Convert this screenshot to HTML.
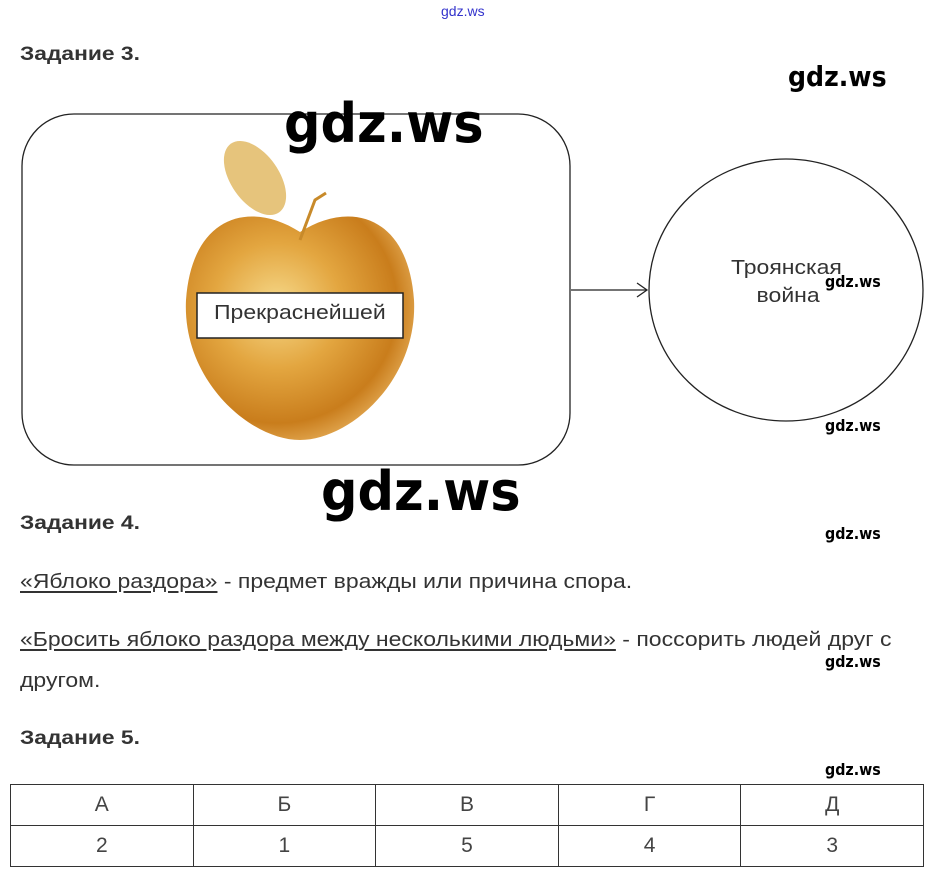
<!DOCTYPE html>
<html><head><meta charset="utf-8"><style>
body{margin:0;width:935px;height:870px;background:#fff;position:relative;overflow:hidden;font-family:"Liberation Sans",Arial,sans-serif;color:#333}
.a{position:absolute;white-space:nowrap;transform-origin:0 0;transform:scaleX(1.15)}
.h{font-weight:bold;font-size:19px;color:#333;transform:scaleX(1.2)}
.w{font-family:"DejaVu Sans Condensed","Liberation Sans",sans-serif;color:#000;font-weight:bold;transform:scaleX(1.0)}
.t{font-size:20px;color:#333}
u{text-decoration-thickness:2px;text-underline-offset:3px}
table{position:absolute;left:10px;top:784px;width:914px;border-collapse:collapse}
td{border:1.5px solid #333;height:38px;text-align:center;font-size:21px;color:#444;width:20%}
</style></head><body>
<div class="a" style="left:441px;top:3px;font-size:14px;color:#33c;transform:none">gdz.ws</div>
<div class="a h" style="left:20px;top:44px">Задание 3.</div>
<div class="a w" style="left:788px;top:60px;font-size:28px">gdz.ws</div>
<svg style="position:absolute;left:0;top:0" width="935" height="480">
<defs>
<radialGradient id="g" cx="0.4" cy="0.4" r="0.7">
<stop offset="0" stop-color="#f6d98a"/><stop offset="0.4" stop-color="#e3a640"/><stop offset="0.75" stop-color="#c97d1c"/><stop offset="1" stop-color="#f0c070"/></radialGradient>
</defs>
<rect x="22" y="114" width="548" height="351" rx="52" fill="none" stroke="#222" stroke-width="1.3"/>
<path d="M300 232 C250 200 192 215 186 300 C182 380 250 440 300 440 C350 440 418 380 414 300 C408 215 350 200 300 232Z" fill="url(#g)"/>
<ellipse cx="255" cy="178" rx="42" ry="24" transform="rotate(55 255 178)" fill="#e6c47c"/>
<path d="M300 240 L315 200 L326 193" stroke="#c88a2a" stroke-width="3" fill="none"/>
<rect x="197" y="293" width="206" height="45" fill="#fff" stroke="#222" stroke-width="1.5"/>
<ellipse cx="786" cy="290" rx="137" ry="131" fill="none" stroke="#222" stroke-width="1.3"/>
<line x1="571" y1="290" x2="647" y2="290" stroke="#222" stroke-width="1.3"/>
<path d="M637 283 L647 290 L637 297" stroke="#222" stroke-width="1.3" fill="none"/>
</svg>
<div class="a" style="left:214px;top:302px;font-size:20px;color:#333">Прекраснейшей</div>
<div class="a w" style="left:284px;top:92px;font-size:54px;transform:scaleX(1.05)">gdz.ws</div>
<div class="a" style="left:731px;top:254px;font-size:20px;color:#333;line-height:28px">Троянская<br>&nbsp;&nbsp;&nbsp;&nbsp;война</div>
<div class="a w" style="left:825px;top:272px;font-size:16px;transform:scaleX(0.99)">gdz.ws</div>
<div class="a w" style="left:825px;top:416px;font-size:16px;transform:scaleX(0.99)">gdz.ws</div>
<div class="a w" style="left:321px;top:460px;font-size:54px;transform:scaleX(1.05)">gdz.ws</div>
<div class="a h" style="left:20px;top:513px">Задание 4.</div>
<div class="a w" style="left:825px;top:524px;font-size:16px;transform:scaleX(0.99)">gdz.ws</div>
<div class="a t" style="left:20px;top:571px"><u>«Яблоко раздора»</u> - предмет вражды или причина спора.</div>
<div class="a t" style="left:20px;top:629px"><u>«Бросить яблоко раздора между несколькими людьми»</u> - поссорить людей друг с</div>
<div class="a w" style="left:825px;top:652px;font-size:16px;transform:scaleX(0.99)">gdz.ws</div>
<div class="a t" style="left:20px;top:670px">другом.</div>
<div class="a h" style="left:20px;top:728px">Задание 5.</div>
<div class="a w" style="left:825px;top:760px;font-size:16px;transform:scaleX(0.99)">gdz.ws</div>
<table><tr><td>А</td><td>Б</td><td>В</td><td>Г</td><td>Д</td></tr>
<tr><td>2</td><td>1</td><td>5</td><td>4</td><td>3</td></tr></table>
</body></html>
